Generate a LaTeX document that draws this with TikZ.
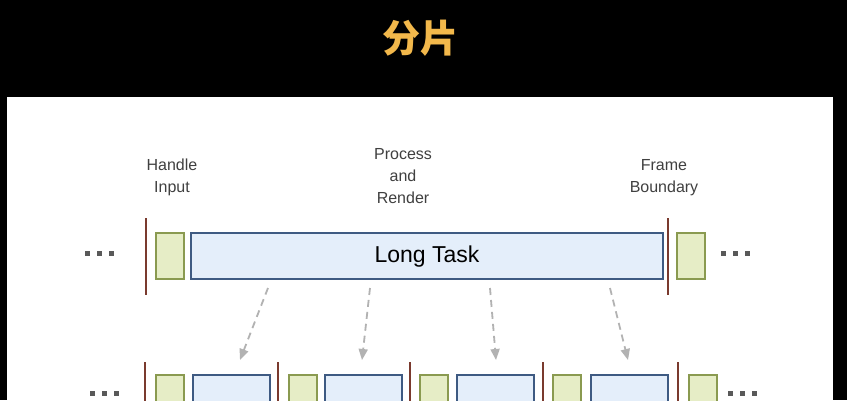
\documentclass[tikz,border=0pt]{standalone}
\usepackage{fontspec}
\setmainfont{Liberation Sans}
\newfontfamily\cjk{Noto Sans CJK SC}
\definecolor{titlegold}{HTML}{F2B84B}
\definecolor{greenfill}{HTML}{E6EDC6}
\definecolor{greenline}{HTML}{8A9A50}
\definecolor{bluefill}{HTML}{E4EEFA}
\definecolor{blueline}{HTML}{3E5A82}
\definecolor{barcol}{HTML}{7A3A2E}
\tikzset{
	frame/.style={greenline, fill=greenfill, line width=1.6pt},
	task/.style={blueline, fill=bluefill, line width=1.6pt},
	bound/.style={barcol, line width=2.5pt},
	split/.style={gray!60, line width=1.8pt, dashed, dash pattern=on 7pt off 5pt, -{Triangle[length=11pt,width=9pt]}},
	lbl/.style={font=\fontsize{16}{22}\selectfont, align=center, text=black!75},
	dotbox/.style={fill=black!65}
}
\usetikzlibrary{arrows.meta}
\begin{document}
\begin{tikzpicture}[x=1pt,y=-1pt]
\fill[black] (0,0) rectangle (847,400);
\fill[white] (7,97) rectangle (833,400);
\useasboundingbox (0,0) rectangle (847,400);

%Titel
\node[titlegold, font=\cjk\bfseries\fontsize{38}{42}\selectfont] (title) at (420,38) {分片};

%Beschriftungen
\node[lbl] (input) at (172,177) {Handle\\Input};
\node[lbl] (render) at (403,176) {Process\\and\\Render};
\node[lbl] (boundary) at (664,178) {Frame\\Boundary};

%Obere Reihe
\draw[bound] (146,218) -- (146,295);
\draw[bound] (668,218) -- (668,295);
\draw[frame] (156,233) rectangle (184,279);
\draw[task] (191,233) rectangle (663,279);
\draw[frame] (677,233) rectangle (705,279);
\node[font=\fontsize{23}{26}\selectfont] (long) at (427,257) {Long Task};

%Punkte
\foreach \x/\y in {87/253, 723/253, 92/393, 730/393}
{
	\foreach \i in {0,12,24}
		\fill[dotbox] (\x+\i-2.5,\y-2.5) rectangle (\x+\i+2.5,\y+2.5);
}

%Pfeile
\foreach \a/\b in {268/240, 370/362, 490/496, 610/628}
{
	\draw[split] (\a,288) -- (\b,360);
}

%Untere Reihe
\foreach \x in {145, 278, 410, 543, 678}
{
	\draw[bound] (\x,362) -- (\x,402);
}
\foreach \x in {156, 289, 420, 553, 689}
{
	\draw[frame] (\x,375) rectangle (\x+28,402);
}
\foreach \x in {193, 325, 457, 591}
{
	\draw[task] (\x,375) rectangle (\x+77,402);
}
\end{tikzpicture}
\end{document}
